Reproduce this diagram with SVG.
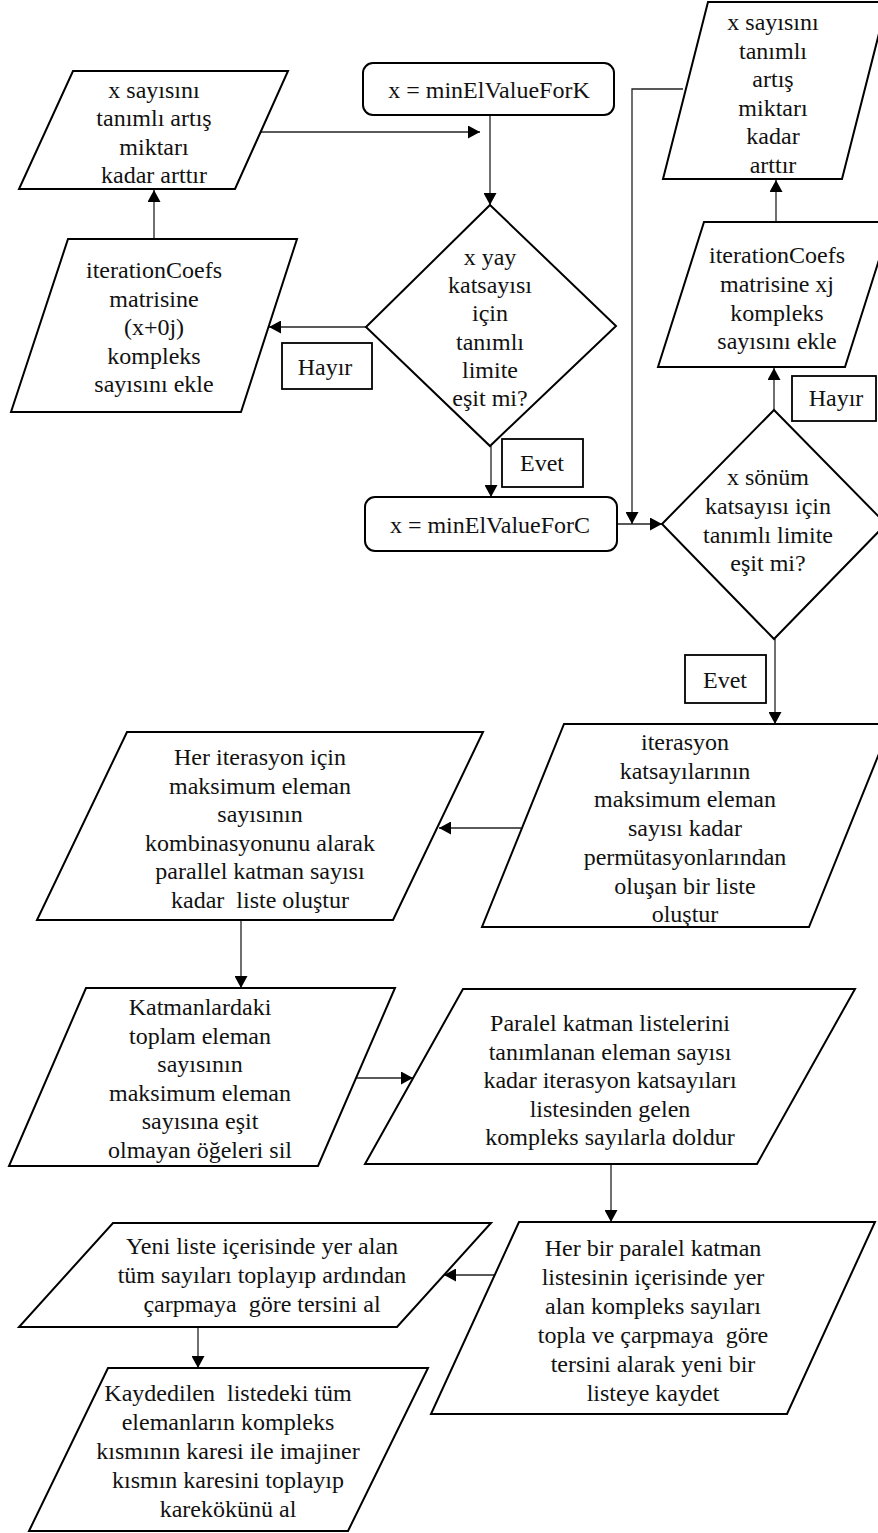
<svg xmlns="http://www.w3.org/2000/svg" width="878" height="1533" viewBox="0 0 878 1533">
  <style>
    .shape { fill: #fff; stroke: #000; stroke-width: 2; stroke-linejoin: miter; }
    .label { fill: #fff; stroke: #000; stroke-width: 1.8; }
    .conn { fill: none; stroke: #222; stroke-width: 1.3; }
    text { font-family: "Liberation Serif", "Times New Roman", serif; font-size: 24px; fill: #111; text-anchor: middle; white-space: pre; }
  </style>
  <defs>
    <marker id="arrow" markerUnits="userSpaceOnUse" markerWidth="13" markerHeight="13" refX="12" refY="6.5" orient="auto">
      <path d="M0,0 L12,6.5 L0,13 z" fill="#000"/>
    </marker>
  </defs>
  <rect width="878" height="1533" fill="#fff"/>

  <!-- connectors -->
  <g id="connectors">
    <line class="conn" x1="154" y1="239" x2="154" y2="190" marker-end="url(#arrow)"/>
    <line class="conn" x1="261" y1="132" x2="480" y2="132" marker-end="url(#arrow)"/>
    <line class="conn" x1="490" y1="115" x2="490" y2="205" marker-end="url(#arrow)"/>
    <line class="conn" x1="366" y1="327" x2="269" y2="327" marker-end="url(#arrow)"/>
    <line class="conn" x1="491" y1="446" x2="491" y2="497" marker-end="url(#arrow)"/>
    <line class="conn" x1="617" y1="524" x2="662" y2="524" marker-end="url(#arrow)"/>
    <polyline class="conn" points="683,89 632,89 632,524" marker-end="url(#arrow)"/>
    <line class="conn" x1="774" y1="410" x2="774" y2="368" marker-end="url(#arrow)"/>
    <line class="conn" x1="776" y1="222" x2="776" y2="180" marker-end="url(#arrow)"/>
    <line class="conn" x1="775" y1="639" x2="775" y2="724" marker-end="url(#arrow)"/>
    <line class="conn" x1="521" y1="828" x2="439" y2="828" marker-end="url(#arrow)"/>
    <line class="conn" x1="241" y1="920" x2="241" y2="988" marker-end="url(#arrow)"/>
    <line class="conn" x1="356" y1="1078" x2="413" y2="1078" marker-end="url(#arrow)"/>
    <line class="conn" x1="611" y1="1164" x2="611" y2="1222" marker-end="url(#arrow)"/>
    <line class="conn" x1="494" y1="1275" x2="444" y2="1275" marker-end="url(#arrow)"/>
    <line class="conn" x1="198" y1="1327" x2="198" y2="1368" marker-end="url(#arrow)"/>
  </g>

  <!-- increment x (spring loop) -->
  <g id="incK">
    <polygon class="shape" points="73,71 288,71 235,189 19,189"/>
    <text><tspan x="154" y="98">x sayısını</tspan><tspan x="154" y="126">tanımlı artış</tspan><tspan x="154" y="155">miktarı</tspan><tspan x="154" y="183">kadar arttır</tspan></text>
  </g>

  <g id="addReal">
    <polygon class="shape" points="68,239 297,239 241,412 11,412"/>
    <text><tspan x="154" y="278">iterationCoefs</tspan><tspan x="154" y="306.5">matrisine</tspan><tspan x="154" y="335">(x+0j)</tspan><tspan x="154" y="363.5">kompleks</tspan><tspan x="154" y="392">sayısını ekle</tspan></text>
  </g>

  <g id="initK">
    <rect class="shape" x="363" y="63" width="251" height="52" rx="10" ry="10"/>
    <text x="489" y="98">x = minElValueForK</text>
  </g>

  <g id="decisionK">
    <polygon class="shape" points="490,205 616,326 490,446 366,327"/>
    <text><tspan x="490" y="265">x yay</tspan><tspan x="490" y="293">katsayısı</tspan><tspan x="490" y="321">için</tspan><tspan x="490" y="350">tanımlı</tspan><tspan x="490" y="378">limite</tspan><tspan x="490" y="406">eşit mi?</tspan></text>
  </g>

  <g id="noK">
    <rect class="label" x="282" y="343" width="90" height="46"/>
    <text x="325" y="375">Hayır</text>
  </g>

  <g id="yesK">
    <rect class="label" x="502" y="439" width="81" height="48"/>
    <text x="542" y="471">Evet</text>
  </g>

  <g id="initC">
    <rect class="shape" x="365" y="497" width="252" height="54" rx="10" ry="10"/>
    <text x="490" y="533">x = minElValueForC</text>
  </g>

  <!-- increment x (damping loop) -->
  <g id="incC">
    <polygon class="shape" points="708,2 887,2 842,179 663,179"/>
    <text><tspan x="773" y="30">x sayısını</tspan><tspan x="773" y="58.6">tanımlı</tspan><tspan x="773" y="87.2">artış</tspan><tspan x="773" y="115.8">miktarı</tspan><tspan x="773" y="144.4">kadar</tspan><tspan x="773" y="173">arttır</tspan></text>
  </g>

  <g id="addImag">
    <polygon class="shape" points="704,222 891,222 845,367 658,367"/>
    <text><tspan x="777" y="263">iterationCoefs</tspan><tspan x="777" y="292">matrisine xj</tspan><tspan x="777" y="321">kompleks</tspan><tspan x="777" y="349">sayısını ekle</tspan></text>
  </g>

  <g id="noC">
    <rect class="label" x="792" y="376" width="84" height="45"/>
    <text x="836" y="406">Hayır</text>
  </g>

  <g id="decisionC">
    <polygon class="shape" points="774,410 886,524 774,639 662,524"/>
    <text><tspan x="768" y="485">x sönüm</tspan><tspan x="768" y="514">katsayısı için</tspan><tspan x="768" y="543">tanımlı limite</tspan><tspan x="768" y="571">eşit mi?</tspan></text>
  </g>

  <g id="yesC">
    <rect class="label" x="685" y="655" width="81" height="48"/>
    <text x="725" y="688">Evet</text>
  </g>

  <g id="permutations">
    <polygon class="shape" points="564,724 891,724 809,927 482,927"/>
    <text><tspan x="685" y="750">iterasyon</tspan><tspan x="685" y="778.7">katsayılarının</tspan><tspan x="685" y="807.4">maksimum eleman</tspan><tspan x="685" y="836.1">sayısı kadar</tspan><tspan x="685" y="864.8">permütasyonlarından</tspan><tspan x="685" y="893.5">oluşan bir liste</tspan><tspan x="685" y="922.2">oluştur</tspan></text>
  </g>

  <g id="combinations">
    <polygon class="shape" points="127,732 483,732 393,920 37,920"/>
    <text><tspan x="260" y="765">Her iterasyon için</tspan><tspan x="260" y="793.5">maksimum eleman</tspan><tspan x="260" y="822">sayısının</tspan><tspan x="260" y="850.5">kombinasyonunu alarak</tspan><tspan x="260" y="879">parallel katman sayısı</tspan><tspan x="260" y="907.5">kadar  liste oluştur</tspan></text>
  </g>

  <g id="filterLayers">
    <polygon class="shape" points="86,988 395,988 318,1166 9,1166"/>
    <text><tspan x="200" y="1015">Katmanlardaki</tspan><tspan x="200" y="1043.6">toplam eleman</tspan><tspan x="200" y="1072.2">sayısının</tspan><tspan x="200" y="1100.8">maksimum eleman</tspan><tspan x="200" y="1129.4">sayısına eşit</tspan><tspan x="200" y="1158">olmayan öğeleri sil</tspan></text>
  </g>

  <g id="fillLayers">
    <polygon class="shape" points="463,989 855,989 757,1164 365,1164"/>
    <text><tspan x="610" y="1031">Paralel katman listelerini</tspan><tspan x="610" y="1059.5">tanımlanan eleman sayısı</tspan><tspan x="610" y="1088">kadar iterasyon katsayıları</tspan><tspan x="610" y="1116.5">listesinden gelen</tspan><tspan x="610" y="1145">kompleks sayılarla doldur</tspan></text>
  </g>

  <g id="layerInverse">
    <polygon class="shape" points="519,1222 875,1222 787,1414 431,1414"/>
    <text><tspan x="653" y="1256">Her bir paralel katman</tspan><tspan x="653" y="1285">listesinin içerisinde yer</tspan><tspan x="653" y="1314">alan kompleks sayıları</tspan><tspan x="653" y="1343">topla ve çarpmaya  göre</tspan><tspan x="653" y="1372">tersini alarak yeni bir</tspan><tspan x="653" y="1401">listeye kaydet</tspan></text>
  </g>

  <g id="totalInverse">
    <polygon class="shape" points="113,1223 491,1223 397,1327 19,1327"/>
    <text><tspan x="262" y="1254">Yeni liste içerisinde yer alan</tspan><tspan x="262" y="1283">tüm sayıları toplayıp ardından</tspan><tspan x="262" y="1312">çarpmaya  göre tersini al</tspan></text>
  </g>

  <g id="magnitude">
    <polygon class="shape" points="108,1368 428,1368 348,1531 29,1531"/>
    <text><tspan x="228" y="1401">Kaydedilen  listedeki tüm</tspan><tspan x="228" y="1430">elemanların kompleks</tspan><tspan x="228" y="1459">kısmının karesi ile imajiner</tspan><tspan x="228" y="1488">kısmın karesini toplayıp</tspan><tspan x="228" y="1517">karekökünü al</tspan></text>
  </g>
</svg>
